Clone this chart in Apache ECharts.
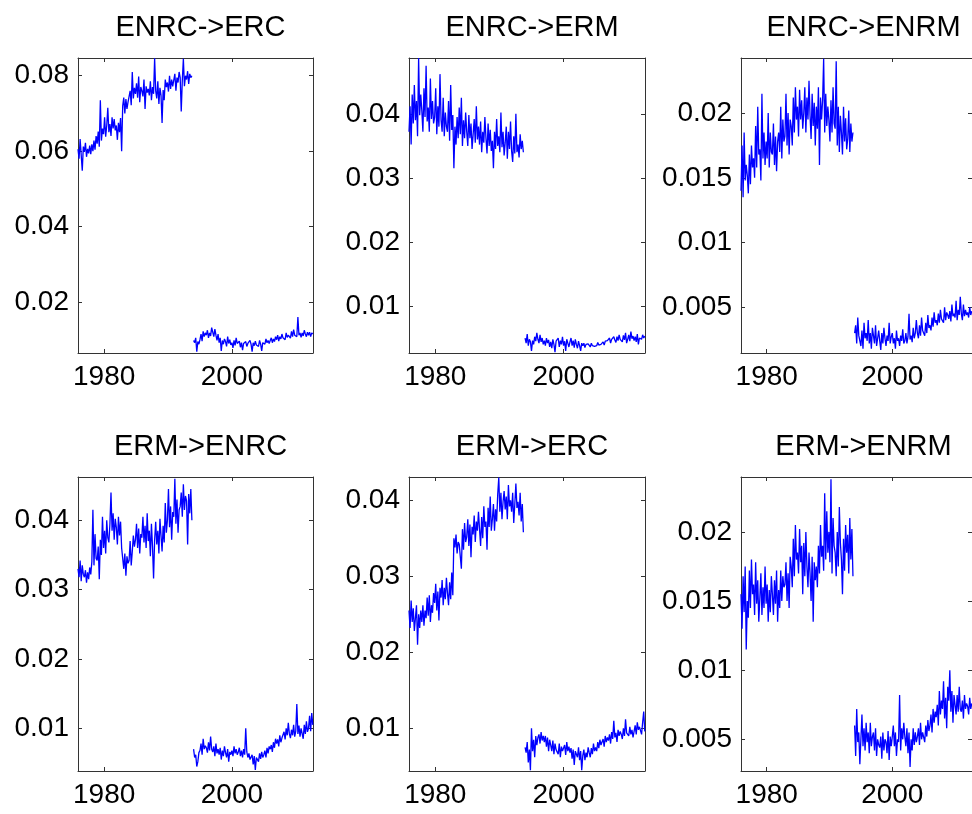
<!DOCTYPE html>
<html>
<head>
<meta charset="utf-8">
<script src="https://cdn.jsdelivr.net/npm/echarts@6/dist/echarts.min.js"></script>
<style>
  html, body { margin: 0; padding: 0; background: #ffffff; }
  #chart { width: 972px; height: 814px; }
</style>
</head>
<body>
<div id="chart"></div>
<script>
// Time series are sampled every two months; series values are in units of 1e-4.
const stepYears = 1 / 6;
const startA = 1975.9;   // first segment (before the break)
const startB = 1994.0;   // second segment (after the break)
const xRange = [1975.9, 2012.7];
const xTickValues = [1980, 2000];

const panelTitles = ['ENRC->ERC', 'ENRC->ERM', 'ENRC->ENRM', 'ERM->ENRC', 'ERM->ERC', 'ERM->ENRM'];

const yTickValues = [
  [0.02, 0.04, 0.06, 0.08],
  [0.01, 0.02, 0.03, 0.04],
  [0.005, 0.01, 0.015, 0.02],
  [0.01, 0.02, 0.03, 0.04],
  [0.01, 0.02, 0.03, 0.04],
  [0.005, 0.01, 0.015, 0.02]
];

const yRanges = [
  [0.00647, 0.0847],
  [0.00266, 0.04872],
  [0.00146, 0.02426],
  [0.00385, 0.04624],
  [0.00439, 0.04306],
  [0.00271, 0.02397]
];

// ENRC->ERC
const enrcErcA = [
  605, 580, 632, 590, 548, 612,
  598, 622, 585, 606, 594, 615,
  592, 618, 600, 628, 604, 640,
  620, 652, 612, 735, 628, 660,
  645, 690, 638, 668, 715, 650,
  672, 640, 690, 660, 685, 655,
  668, 630, 675, 650, 688, 600,
  720, 742, 700, 738, 712, 730,
  735, 760, 722, 810, 740, 768,
  752, 780, 742, 798, 730, 770,
  760, 745, 790, 712, 772, 755,
  765, 748, 785, 735, 770, 752,
  846, 760, 740, 785, 725, 768,
  748, 675, 762, 735, 790, 770,
  782, 758, 800, 765, 790, 772,
  775, 805, 760, 795, 782, 810,
  795, 705, 788, 845, 772, 800,
  790, 812, 778, 805, 795, 800
];
const enrcErcB = [
  98, 92, 105, 68, 95, 88,
  100, 115, 96, 122, 108, 118,
  112, 125, 105, 118, 110, 132,
  120, 108, 128, 112, 98, 115,
  92, 105, 70, 98, 88, 102,
  95, 82, 108, 90, 100, 86,
  92, 78, 98, 85, 105, 90,
  88, 96, 80, 92, 72, 90,
  85, 95, 82, 90, 88, 98,
  88, 68, 92, 84, 96, 86,
  90, 82, 98, 88, 70, 92,
  95, 88, 102, 92, 98, 90,
  98, 105, 92, 102, 95, 108,
  100, 112, 96, 108, 102, 115,
  105, 110, 100, 118, 106, 112,
  110, 104, 122, 108, 127, 112,
  115, 108, 160, 112, 118, 106,
  118, 110, 125, 115, 108, 120,
  112, 120, 108, 118, 115
];

// ENRC->ERM
const enrcErmA = [
  372, 412, 352, 430, 385, 445,
  390, 420, 365, 487, 398, 430,
  405, 372, 440, 395, 475, 388,
  410, 372, 455, 392, 420, 385,
  395, 440, 368, 412, 380, 462,
  390, 372, 425, 365, 402, 380,
  372, 420, 358, 445, 375, 398,
  315, 380, 352, 395, 362, 410,
  368, 425, 350, 390, 362, 402,
  372, 350, 398, 362, 385, 345,
  368, 392, 355, 412, 360, 380,
  352, 388, 340, 372, 355, 395,
  362, 338, 385, 350, 375, 342,
  358, 315, 372, 345, 392, 350,
  365, 340, 402, 348, 372, 335,
  355, 380, 330, 372, 345, 388,
  342, 325, 365, 338, 400, 340,
  352, 332, 368, 345, 358, 340
];
const enrcErmB = [
  50, 42, 56, 38, 48, 44,
  30, 46, 40, 52, 45, 58,
  48, 42, 55, 44, 50, 40,
  46, 38, 50, 42, 47, 36,
  44, 34, 48, 40, 28, 45,
  42, 50, 36, 46, 40, 52,
  38, 45, 30, 48, 42, 36,
  44, 50, 38, 46, 35, 48,
  40, 34, 45, 38, 30, 42,
  38, 42, 35, 40, 37, 41,
  39, 36, 42, 38, 41, 37,
  40, 38, 43, 39, 42, 40,
  41, 44, 39, 45, 42, 46,
  44, 50, 42, 48, 45, 52,
  47, 43, 52, 46, 55, 48,
  50, 44, 54, 47, 58, 42,
  48, 55, 45, 60, 49, 53,
  46, 52, 44, 56, 40, 50,
  52, 48, 55, 50, 53
];

// ENRC->ENRM
const enrcEnrmA = [
  140, 175, 135, 185, 148, 160,
  152, 138, 168, 145, 175, 158,
  165, 150, 190, 158, 205, 168,
  172, 148, 215, 165, 185, 160,
  178, 165, 200, 158, 185, 170,
  168, 192, 160, 182, 155, 178,
  185, 170, 205, 165, 195, 178,
  182, 215, 175, 200, 168, 195,
  190, 175, 212, 185, 220, 195,
  205, 182, 218, 195, 210, 188,
  200, 220, 185, 212, 195, 225,
  198, 180, 215, 190, 208, 175,
  205, 188, 220, 160, 212, 195,
  210, 242, 185, 215, 190, 205,
  195, 178, 210, 185, 220, 192,
  188, 240, 175, 205, 170, 198,
  185, 168, 205, 178, 196, 172,
  180, 202, 170, 192, 178, 185
];
const enrcEnrmB = [
  30, 36, 22, 42, 28, 24,
  20, 32, 18, 38, 26, 30,
  24, 40, 22, 30, 18, 34,
  28, 22, 36, 20, 26, 32,
  24, 17, 30, 22, 34, 26,
  20, 28, 24, 38, 22, 27,
  30, 22, 26, 18, 32, 24,
  26, 20, 28, 24, 33, 22,
  24, 30, 22, 27, 45, 25,
  28, 23, 34, 26, 30, 40,
  30, 26, 36, 28, 42, 32,
  33, 28, 38, 30, 44, 34,
  36, 32, 42, 35, 46, 38,
  40, 36, 45, 38, 48, 41,
  42, 38, 50, 40, 46, 44,
  41, 47, 39, 52, 43, 45,
  42, 55, 40, 48, 44, 58,
  45, 40, 52, 43, 48, 44,
  46, 42, 50, 44, 47
];

// ERM->ENRC
const ermEnrcA = [
  330, 318, 342, 312, 335, 322,
  318, 328, 310, 325, 315, 332,
  322, 340, 415, 335, 380, 345,
  342, 362, 315, 372, 350, 405,
  360, 385, 352, 400, 375, 368,
  395, 440, 385, 410, 372, 402,
  390, 365, 405, 378, 398, 360,
  345, 330, 352, 320, 348, 338,
  342, 370, 335, 355, 378, 362,
  372, 395, 360, 388, 352, 380,
  375, 405, 368, 392, 360, 410,
  370, 385, 348, 395, 362, 316,
  372, 398, 365, 385, 352, 402,
  378, 355, 392, 368, 425, 382,
  400, 445, 390, 420, 372, 412,
  405, 460, 395, 430, 382, 415,
  420, 440, 405, 452, 415, 435,
  428, 365, 438, 410, 445, 400
];
const ermEnrcB = [
  70, 58, 62, 45, 52, 65,
  68, 78, 62, 85, 70, 75,
  72, 65, 80, 68, 88, 70,
  66, 74, 60, 78, 64, 70,
  62, 72, 55, 68, 60, 74,
  65, 58, 70, 52, 66, 62,
  68, 60, 74, 64, 70, 62,
  66, 72, 60, 68, 58, 70,
  62, 100, 66, 58, 64, 55,
  55, 62, 48, 60, 40, 58,
  60, 52, 64, 56, 66, 58,
  62, 68, 58, 72, 64, 74,
  70, 76, 66, 80, 72, 85,
  78, 84, 74, 90, 80, 86,
  88, 95, 84, 100, 90, 108,
  92, 86, 98, 90, 105, 88,
  96, 135, 92, 104, 88, 100,
  98, 85, 105, 92, 110, 95,
  100, 118, 96, 122, 105
];

// ERM->ERC
const ermErcA = [
  255, 232, 268, 240, 258, 228,
  245, 262, 210, 250, 232, 255,
  240, 262, 235, 255, 245, 272,
  248, 275, 240, 262, 252, 278,
  265, 290, 255, 280, 242, 285,
  272, 295, 262, 285, 270, 298,
  278, 262, 292, 270, 305, 275,
  350, 338, 355, 330, 345, 342,
  340, 310, 362, 335, 370, 345,
  352, 375, 340, 368, 325, 365,
  355, 380, 345, 372, 360, 385,
  362, 340, 378, 350, 392, 365,
  372, 335, 390, 365, 405, 360,
  375, 395, 360, 388, 372, 408,
  430, 385, 410, 375, 398, 412,
  388, 405, 375, 420, 392, 400,
  385, 410, 370, 395, 422, 390,
  398, 380, 410, 372, 395, 358
];
const ermErcB = [
  75, 68, 82, 55, 72, 45,
  100, 70, 85, 62, 90, 78,
  88, 92, 80, 95, 84, 90,
  82, 90, 76, 88, 70, 85,
  78, 70, 84, 66, 80, 72,
  74, 66, 80, 62, 76, 70,
  72, 78, 65, 82, 70, 76,
  68, 74, 60, 72, 52, 70,
  66, 62, 75, 58, 70, 45,
  64, 72, 58, 68, 62, 75,
  68, 62, 74, 66, 80, 70,
  75, 70, 82, 74, 85, 78,
  80, 86, 76, 90, 82, 88,
  84, 92, 80, 95, 86, 110,
  88, 94, 82, 98, 90, 96,
  92, 86, 100, 90, 112, 94,
  95, 90, 102, 92, 98, 88,
  96, 104, 92, 108, 98, 102,
  100, 92, 108, 122, 96
];

// ERM->ENRM
const ermEnrmA = [
  155, 130, 168, 142, 175, 115,
  150, 138, 172, 145, 180, 155,
  162, 140, 178, 148, 165, 135,
  152, 170, 140, 160, 145, 175,
  148, 162, 135, 158, 142, 168,
  155, 140, 165, 148, 172, 135,
  158, 145, 172, 150, 168, 160,
  162, 178, 150, 170, 145, 182,
  175, 160, 195, 168, 205, 180,
  185, 170, 202, 178, 190, 155,
  192, 168, 200, 175, 160, 185,
  170, 150, 182, 135, 178, 165,
  175, 160, 190, 170, 205, 182,
  190, 172, 228, 180, 215, 185,
  200, 178, 238, 170, 210, 190,
  185, 168, 200, 175, 218, 192,
  180, 155, 195, 172, 205, 185,
  198, 170, 210, 180, 202, 168
];
const ermEnrmB = [
  60, 38, 72, 48, 55, 32,
  50, 68, 45, 58, 42, 62,
  48, 55, 40, 62, 45, 52,
  55, 42, 58, 38, 50, 46,
  44, 52, 36, 55, 42, 50,
  48, 40, 56, 35, 52, 45,
  52, 60, 45, 55, 38, 50,
  48, 82, 42, 58, 50, 62,
  52, 45, 58, 40, 55, 30,
  50, 42, 58, 46, 55, 48,
  52, 58, 46, 62, 50, 55,
  54, 48, 60, 52, 64, 56,
  60, 68, 55, 72, 62, 70,
  66, 75, 60, 85, 68, 78,
  72, 92, 65, 80, 58, 88,
  78, 100, 70, 85, 62, 82,
  75, 68, 82, 70, 88, 72,
  70, 78, 65, 82, 72, 76,
  74, 68, 80, 72, 76
];

const panelSeries = [
  [enrcErcA, enrcErcB],
  [enrcErmA, enrcErmB],
  [enrcEnrmA, enrcEnrmB],
  [ermEnrcA, ermEnrcB],
  [ermErcA, ermErcB],
  [ermEnrmA, ermEnrmB]
];

// ---- layout and styling ----
const colLeft = [78, 409, 741];
const colWidth = [235, 236, 235];
const rowTop = [58, 477];
const rowHeight = [295, 294];
const fontFamily = '"Liberation Sans", Arial, Helvetica, sans-serif';
const axisColor = '#333333';
const lineColor = '#0000ff';

function toPoints(values, start) {
  return values.map((v, i) => [start + i * stepYears, v * 1e-4]);
}

const grids = [], xAxes = [], yAxes = [], titles = [], series = [];

panelTitles.forEach((name, p) => {
  const col = p % 3, row = Math.floor(p / 3);
  const left = colLeft[col], top = rowTop[row];
  const width = colWidth[col], height = rowHeight[row];
  grids.push({ left: left, top: top, width: width, height: height, containLabel: false });

  titles.push({
    text: name,
    left: left + width / 2,
    top: top - 50,
    textAlign: 'center',
    textStyle: { fontFamily: fontFamily, fontSize: 29, fontWeight: 'normal', color: '#000' }
  });

  const line = { show: true, onZero: false, lineStyle: { color: axisColor, width: 1 } };
  const tick = (vals) => ({ show: true, inside: true, length: 4, customValues: vals, lineStyle: { color: axisColor, width: 1 } });

  // bottom and top x axes (top carries only the tick marks)
  ['bottom', 'top'].forEach((pos) => {
    xAxes.push({
      gridIndex: p, type: 'value', position: pos,
      min: xRange[0], max: xRange[1],
      axisLine: line, axisTick: tick(xTickValues),
      axisLabel: pos === 'bottom' ? {
        show: true, customValues: xTickValues, margin: 10,
        color: '#000', fontFamily: fontFamily, fontSize: 28,
        formatter: (v) => String(v)
      } : { show: false },
      splitLine: { show: false }
    });
  });

  // left and right y axes (right carries only the tick marks)
  ['left', 'right'].forEach((pos) => {
    yAxes.push({
      gridIndex: p, type: 'value', position: pos,
      min: yRanges[p][0], max: yRanges[p][1],
      axisLine: line, axisTick: tick(yTickValues[p]),
      axisLabel: pos === 'left' ? {
        show: true, customValues: yTickValues[p], margin: 9,
        color: '#000', fontFamily: fontFamily, fontSize: 28,
        formatter: (v) => String(+v.toFixed(4))
      } : { show: false },
      splitLine: { show: false }
    });
  });

  [startA, startB].forEach((start, s) => {
    series.push({
      type: 'line',
      xAxisIndex: p * 2, yAxisIndex: p * 2,
      data: toPoints(panelSeries[p][s], start),
      showSymbol: false, symbol: 'none',
      lineStyle: { color: lineColor, width: 1.3 },
      silent: true, clip: true
    });
  });
});

const chart = echarts.init(document.getElementById('chart'));
chart.setOption({
  animation: false,
  backgroundColor: '#ffffff',
  title: titles,
  grid: grids,
  xAxis: xAxes,
  yAxis: yAxes,
  series: series
});
</script>
</body>
</html>
